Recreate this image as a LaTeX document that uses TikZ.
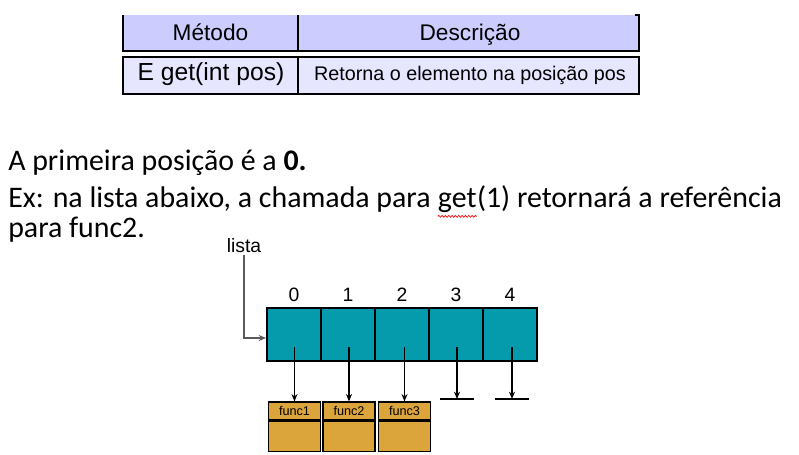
\documentclass[tikz,border=0pt]{standalone}
\usepackage{fontspec}
\setmainfont{Carlito}
\newfontfamily\arialf{Liberation Sans}
\usetikzlibrary{arrows.meta,decorations.pathmorphing}
\definecolor{hdrfill}{HTML}{CCCCFF}
\definecolor{rowfill}{HTML}{E6E6FF}
\definecolor{tealc}{HTML}{069AAD}
\definecolor{goldc}{HTML}{DBA53B}
\definecolor{pgray}{HTML}{5A5A5A}
\begin{document}
\begin{tikzpicture}[x=0.75pt,y=-0.75pt,
  txt/.style={inner sep=0pt, anchor=base west, font=\fontsize{22.4}{26}\selectfont},
  tbl/.style={draw=black, line width=1.5pt},
  thdr/.style={inner sep=0pt, anchor=base, font=\arialf\fontsize{17}{20}\selectfont},
  tsmall/.style={inner sep=0pt, anchor=base, font=\arialf\fontsize{14.8}{17}\selectfont},
  lbl/.style={inner sep=1pt, font=\arialf\fontsize{14.5}{17}\selectfont},
  cellbox/.style={draw=black, fill=tealc, line width=1pt, minimum width=40.5pt, minimum height=39.75pt, inner sep=0pt},
  fhead/.style={draw=black, fill=goldc, line width=0.9pt, minimum width=39pt, minimum height=13.5pt, inner sep=0pt, font=\arialf\fontsize{9.5}{11}\selectfont},
  fbody/.style={draw=black, fill=goldc, line width=0.9pt, minimum width=39pt, minimum height=22.5pt, inner sep=0pt, anchor=north},
  ptr/.style={draw=black, line width=0.9pt, -{Stealth[length=5.5pt,width=4.5pt]}},
  wavy/.style={draw=red, line width=0.5pt, decorate, decoration={snake, amplitude=0.7pt, segment length=2.5pt}}
]
\useasboundingbox (0,0) rectangle (799,454);

% table
\fill[hdrfill] (123,15) rectangle (639,51);
\draw[tbl] (123,15) -- (123,51) -- (639,51) -- (639,15) -- (635,15);
\draw[tbl] (298,15) -- (298,51);
\draw[tbl, fill=rowfill] (123,57) rectangle (639,94);
\draw[tbl] (298,57) -- (298,94);
\node[thdr] (hm) at (210.5,40.5) {Método};
\node[thdr] (hd) at (470,40.5) {Descrição};
\node[thdr, font=\arialf\fontsize{18.5}{21}\selectfont] (rm) at (211,80.5) {E get(int pos)};
\node[tsmall] (rd) at (470,80.5) {Retorna o elemento na posição pos};

% body text
\node[txt] (l1) at (8,170) {A primeira posição é a \textbf{0.}};
\node[txt] (l2a) at (8,207) {Ex: na lista abaixo, a chamada para\kern0.226em};
\node[txt] (l2b) at (l2a.base east) {get};
\node[txt] (l2c) at (l2b.base east) {(1) retornará a referência};
\node[txt] (l3) at (8,237) {para func2.};
\draw[wavy] ([yshift=-7pt]l2b.base west) -- ([yshift=-7pt]l2b.base east);

% list diagram
\node[lbl] (lista) at (244,246) {lista};
\foreach \i/\x in {0/294,1/348,2/402,3/456,4/510}{
  \node[cellbox] (c\i) at (\x,334.5) {};
  \node[lbl] (n\i) at (\x,295) {\i};
}
\coordinate (in0) at (266,338);
\draw[ptr, draw=pgray] (lista) |- (in0);

\foreach \i/\x in {1/294.5,2/349,3/404.5}{
  \node[fhead] (f\i) at (\x,411) {func\i};
  \node[fbody] (f\i b) at (f\i.south) {};
}
\coordinate (s0) at (294.5,347);
\coordinate (s1) at (349,347);
\coordinate (s2) at (404.5,347);
\coordinate (s3) at (457,347);
\coordinate (s4) at (512,347);
\coordinate (g3) at (457,399);
\coordinate (g4) at (512,399);
\draw[ptr] (s0) -- (f1.north);
\draw[ptr] (s1) -- (f2.north);
\draw[ptr] (s2) -- (f3.north);
\draw[ptr] (s3) -- (g3);
\draw[ptr] (s4) -- (g4);
\draw[line width=0.9pt] ([xshift=-12.75pt]g3) -- ([xshift=12.75pt]g3);
\draw[line width=0.9pt] ([xshift=-12.75pt]g4) -- ([xshift=12.75pt]g4);
\end{tikzpicture}
\end{document}
